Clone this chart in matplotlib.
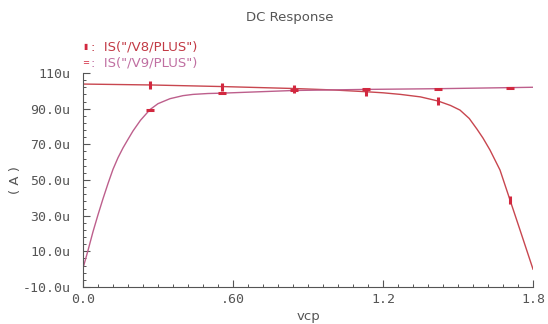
import matplotlib
matplotlib.use("Agg")
import matplotlib.pyplot as plt
from matplotlib.ticker import AutoMinorLocator

# --- data (current in uA vs vcp in V) ---
v8_x = [0.0, 0.268, 0.556, 0.844, 1.0, 1.132, 1.2, 1.27, 1.35, 1.42, 1.47, 1.508,
        1.545, 1.576, 1.6, 1.628, 1.668, 1.708, 1.748, 1.8]
v8_i = [103.8, 103.3, 102.4, 101.3, 100.5, 99.5, 98.9, 98.0, 96.6, 94.3, 91.8, 89.2,
        84.5, 78.5, 73.5, 66.8, 55.6, 38.8, 22.0, 0.0]

v9_x = [0.0, 0.02, 0.04, 0.06, 0.08, 0.10, 0.12, 0.14, 0.16, 0.18, 0.2, 0.23, 0.268,
        0.3, 0.348, 0.4, 0.44, 0.5, 0.556, 0.844, 1.132, 1.42, 1.708, 1.8]
v9_i = [0.5, 10.5, 21.0, 30.5, 39.5, 48.0, 56.0, 62.5, 68.0, 72.8, 77.5, 83.5, 89.5,
        92.8, 95.6, 97.3, 98.0, 98.5, 98.7, 100.2, 100.8, 101.2, 101.8, 102.0]

marker_x = [0.268, 0.556, 0.844, 1.132, 1.42, 1.708]

x_ticks = [0.0, 0.6, 1.2, 1.8]
x_tick_labels = ["0.0", ".60", "1.2", "1.8"]
y_ticks = [-10, 10, 30, 50, 70, 90, 110]
y_tick_labels = ["-10.0u", "10.0u", "30.0u", "50.0u", "70.0u", "90.0u", "110u"]

c_v8 = "#c8464f"
c_v9 = "#bd5f8c"
c_mark = "#d2283f"
grey = "#555555"

fig = plt.figure(figsize=(5.48, 3.24), dpi=100)
ax = fig.add_axes([83 / 548, 1 - 287 / 324, 450 / 548, 214 / 324])

ax.plot(v8_x, v8_i, color=c_v8, lw=1.0,
        marker="|", ms=6, mew=2.2, mec=c_mark,
        markevery=[v8_x.index(m) for m in marker_x])
ax.plot(v9_x, v9_i, color=c_v9, lw=1.0,
        marker="_", ms=6, mew=2.2, mec=c_mark,
        markevery=[v9_x.index(m) for m in marker_x])

ax.set_xlim(0, 1.8)
ax.set_ylim(-10, 110)

ax.set_xticks(x_ticks)
ax.set_xticklabels(x_tick_labels)
ax.set_yticks(y_ticks)
ax.set_yticklabels(y_tick_labels)
ax.xaxis.set_minor_locator(AutoMinorLocator(10))
ax.yaxis.set_minor_locator(AutoMinorLocator(5))

for s in ["top", "right"]:
    ax.spines[s].set_visible(False)
for s in ["left", "bottom"]:
    ax.spines[s].set_color(grey)
    ax.spines[s].set_linewidth(0.8)

ax.tick_params(which="both", direction="in", colors=grey)
ax.tick_params(which="major", length=5, width=0.8, labelsize=9.5)
ax.tick_params(which="minor", length=2.5, width=0.7)
ax.tick_params(axis="y", pad=9)
ax.tick_params(axis="x", pad=4)
for lab in ax.get_xticklabels() + ax.get_yticklabels():
    lab.set_family("DejaVu Sans Mono")
    lab.set_color(grey)

ax.set_xlabel("vcp", color=grey, fontsize=9.5, labelpad=3)
fig.text(15 / 548, 1 - 180 / 324, "( A )", rotation=90, ha="center", va="center",
         color=grey, fontsize=9.5)

fig.text(290 / 548, 1 - 18 / 324, "DC Response", ha="center", va="center",
         color=grey, fontsize=9.5)

# legend as in the waveform viewer: small marker glyph, then the signal name
fig.text(83 / 548, 1 - 47 / 324, "\u25ae", ha="left", va="center", color=c_mark, fontsize=5.5)
fig.text(91 / 548, 1 - 47 / 324, ':  IS("/V8/PLUS")', ha="left", va="center",
         color="#c23a45", fontsize=9.5)
fig.text(82 / 548, 1 - 63 / 324, "=", ha="left", va="center", color=c_mark, fontsize=6)
fig.text(91 / 548, 1 - 63 / 324, ':  IS("/V9/PLUS")', ha="left", va="center",
         color="#c070a2", fontsize=9.5)

fig.savefig("out.png", dpi=100)
